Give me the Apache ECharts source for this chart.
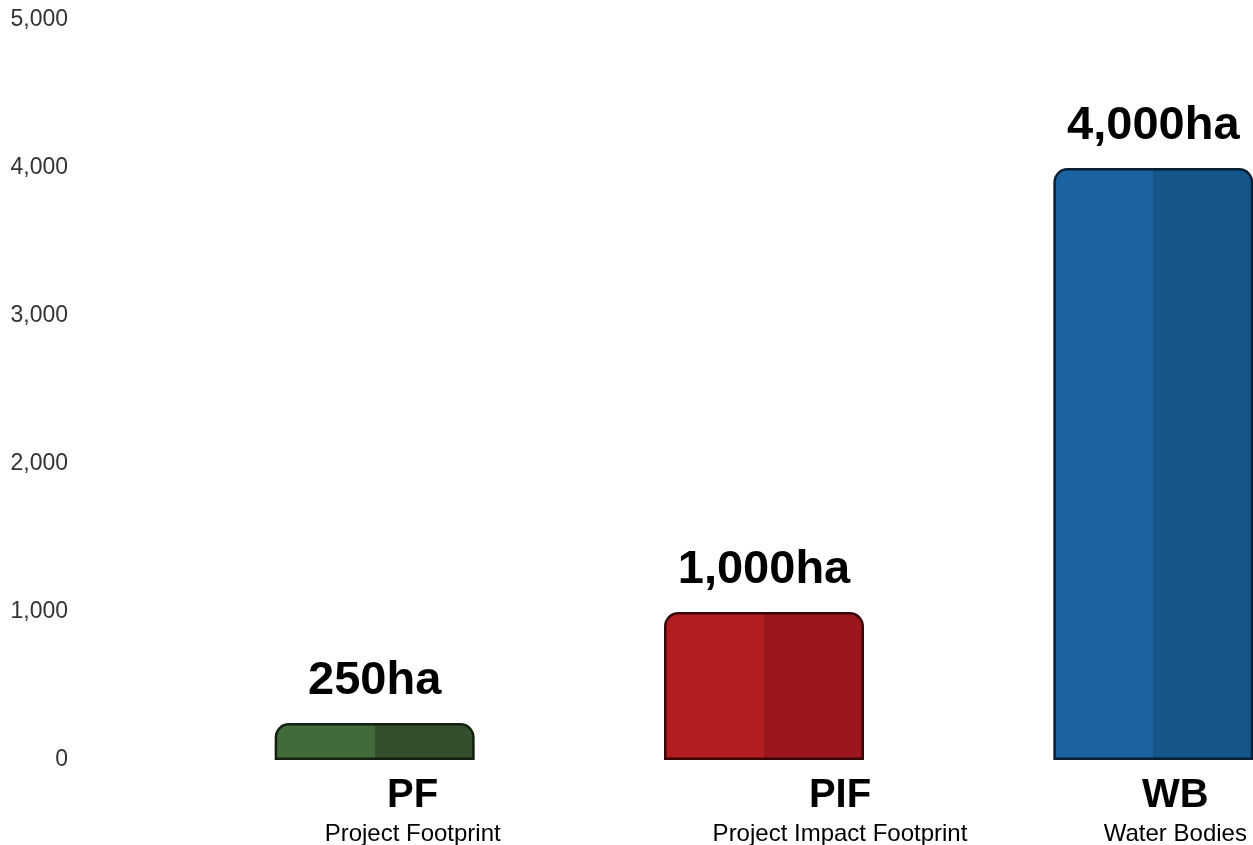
<!DOCTYPE html>
<html>
<head>
<meta charset="utf-8">
<title>Footprint areas</title>
<script src="https://cdn.jsdelivr.net/npm/echarts@6/dist/echarts.min.js"></script>
<style>
  html, body { margin: 0; padding: 0; background: #fff; }
  #chart { width: 1253px; height: 845px; }
</style>
</head>
<body>
<div id="chart"></div>
<script>
// chart data
const codes = ['PF', 'PIF', 'WB'];
const names = ['Project Footprint', 'Project Impact Footprint', 'Water Bodies'];
const areas = [250, 1000, 4000];
const yTicks = [0, 1000, 2000, 3000, 4000, 5000];

// two-tone bar colours: [light half, dark half, border]
const palette = [
  ['#436a3a', '#344f2d', '#14200f'],
  ['#b11d20', '#9a181d', '#3a0708'],
  ['#1a63a0', '#16558a', '#0a1f33']
];

// labels under each bar are shifted right of the bar centre
const labelShift = [38, 76, 22];

function twoTone(c) {
  return {
    type: 'linear', x: 0, y: 0, x2: 1, y2: 0,
    colorStops: [
      { offset: 0, color: c[0] },
      { offset: 0.5, color: c[0] },
      { offset: 0.5, color: c[1] },
      { offset: 1, color: c[1] }
    ]
  };
}

const fmt = v => v.toLocaleString('en-US');

const chart = echarts.init(document.getElementById('chart'));

chart.setOption({
  animation: false,
  // right is negative on purpose: the last bar runs to the page edge
  grid: { left: 180, right: -95, top: 20, bottom: 85, outerBoundsMode: 'none' },
  xAxis: {
    type: 'category',
    data: codes.map((c, i) => ({
      value: c,
      textStyle: { padding: [0, 0, 0, labelShift[i] * 2] }
    })),
    axisLine: { show: false },
    axisTick: { show: false },
    axisLabel: {
      margin: 14,
      interval: 0,
      formatter: (v, i) => '{code|' + v + '}\n{name|' + names[i] + '}',
      rich: {
        code: {
          fontFamily: 'Liberation Sans, Arial, sans-serif',
          fontSize: 40, fontWeight: 'bold', color: '#000',
          lineHeight: 44, align: 'center'
        },
        name: {
          fontFamily: 'Liberation Sans, Arial, sans-serif',
          fontSize: 24, color: '#000',
          lineHeight: 33, align: 'center'
        }
      }
    }
  },
  yAxis: {
    type: 'value',
    min: yTicks[0],
    max: yTicks[yTicks.length - 1],
    interval: yTicks[1] - yTicks[0],
    axisLine: { show: false },
    axisTick: { show: false },
    splitLine: { show: false },
    axisLabel: {
      margin: 112,
      padding: [4, 0, 0, 0],
      fontFamily: 'Liberation Sans, Arial, sans-serif',
      fontSize: 23,
      color: '#333',
      formatter: v => fmt(v)
    }
  },
  series: [{
    type: 'bar',
    barWidth: 200,
    data: areas.map((v, i) => ({
      value: v,
      itemStyle: {
        color: twoTone(palette[i]),
        borderColor: palette[i][2],
        borderWidth: 2.5,
        borderRadius: [13, 13, 0, 0]
      }
    })),
    label: {
      show: true,
      position: 'top',
      distance: 18,
      fontFamily: 'Liberation Sans, Arial, sans-serif',
      fontSize: 47,
      fontWeight: 'bold',
      color: '#000',
      formatter: p => fmt(p.value) + 'ha'
    }
  }]
});

window.addEventListener('resize', () => chart.resize());
</script>
</body>
</html>
